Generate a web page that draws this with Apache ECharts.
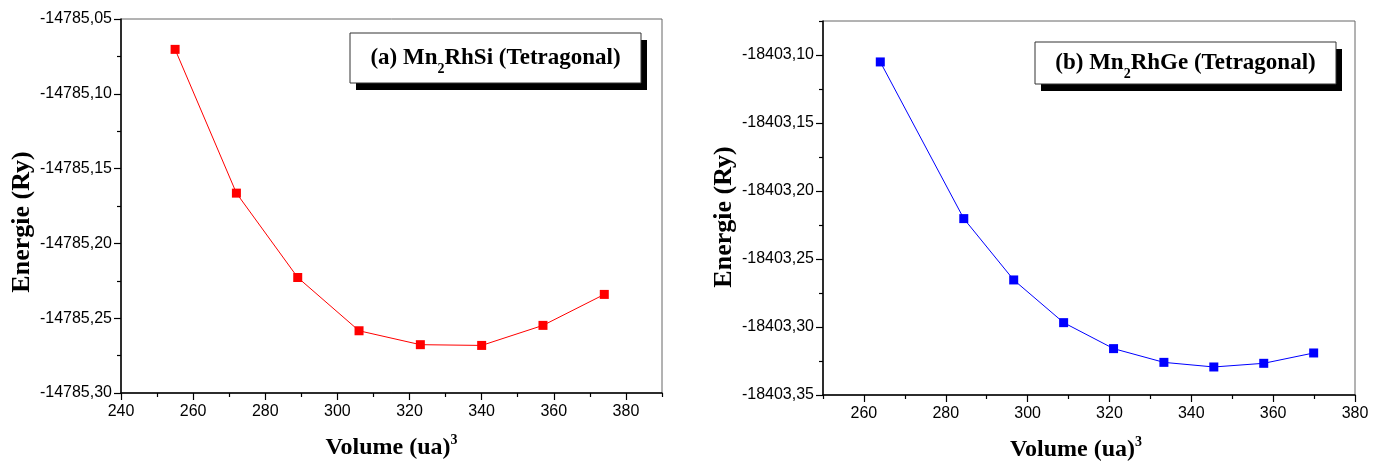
<!DOCTYPE html>
<html>
<head>
<meta charset="utf-8">
<title>Energie vs Volume</title>
<script src="https://cdn.jsdelivr.net/npm/echarts@6/dist/echarts.min.js"></script>
<style>
  html, body { margin: 0; padding: 0; background: #fff; }
  #chart { width: 1383px; height: 462px; }
</style>
</head>
<body>
<div id="chart"></div>
<script>
// (a) Mn2RhSi
const volA = [255, 272, 289, 306, 323, 340, 357, 374];
const energyA = [-14785.0703, -14785.1664, -14785.2228, -14785.2584, -14785.2677, -14785.2682, -14785.2548, -14785.2341];
// (b) Mn2RhGe
const volB = [264, 284.4, 296.6, 308.8, 321, 333.3, 345.5, 357.7, 369.9];
const energyB = [-18403.1051, -18403.2203, -18403.2654, -18403.2968, -18403.3159, -18403.3260, -18403.3294, -18403.3267, -18403.3191];

// ticks
const xTicksA = [240, 260, 280, 300, 320, 340, 360, 380];
const xMinorA = [250, 270, 290, 310, 330, 350, 370, 390];
const yTicksA = [-14785.30, -14785.25, -14785.20, -14785.15, -14785.10, -14785.05];
const yMinorA = [-14785.275, -14785.225, -14785.175, -14785.125, -14785.075];
const xTicksB = [260, 280, 300, 320, 340, 360, 380];
const xMinorB = [250, 270, 290, 310, 330, 350, 370];
const yTicksB = [-18403.35, -18403.30, -18403.25, -18403.20, -18403.15, -18403.10];
const yMinorB = [-18403.325, -18403.275, -18403.225, -18403.175, -18403.125, -18403.075];

const chart = echarts.init(document.getElementById('chart'));

const serif = '"Liberation Serif", "Times New Roman", serif';
const sans = '"Liberation Sans", Arial, sans-serif';

function yFmt (v) { return v.toFixed(2).replace('.', ','); }

function xName (pad) {
  return {
    name: 'Volume (ua){sup|3}',
    nameLocation: 'middle',
    nameGap: 40,
    nameTextStyle: {
      fontFamily: serif, fontWeight: 'bold', fontSize: 24, color: '#000', lineHeight: 30, padding: pad,
      rich: { sup: { fontFamily: serif, fontWeight: 'bold', fontSize: 14, verticalAlign: 'top', lineHeight: 30, color: '#000' } }
    }
  };
}
function yName (pad) {
  return {
    name: 'Energie (Ry)',
    nameLocation: 'middle',
    nameGap: 86,
    nameTextStyle: { fontFamily: serif, fontWeight: 'bold', fontSize: 26, color: '#000', padding: pad }
  };
}

function mainX (grid, min, max, ticks, pad) {
  return Object.assign({
    type: 'value', gridIndex: grid, min: min, max: max, position: 'bottom',
    axisLine: { onZero: false, lineStyle: { color: '#000', width: 1.5 } },
    axisTick: { inside: false, length: 7, customValues: ticks, lineStyle: { color: '#000', width: 1.2 } },
    axisLabel: { customValues: ticks, margin: 11, fontFamily: sans, fontSize: 16, color: '#000' },
    splitLine: { show: false }
  }, xName(pad));
}
function minorX (grid, min, max, ticks) {
  return {
    type: 'value', gridIndex: grid, min: min, max: max, position: 'bottom',
    axisLine: { show: false },
    axisTick: { inside: false, length: 4, customValues: ticks, lineStyle: { color: '#000', width: 1.2 } },
    axisLabel: { show: false },
    splitLine: { show: false }
  };
}
function mainY (grid, min, max, ticks, pad) {
  return Object.assign({
    type: 'value', gridIndex: grid, min: min, max: max, position: 'left',
    axisLine: { onZero: false, lineStyle: { color: '#000', width: 1.5 } },
    axisTick: { inside: false, length: 7, customValues: ticks, lineStyle: { color: '#000', width: 1.2 } },
    axisLabel: { customValues: ticks, margin: 9, fontFamily: sans, fontSize: 16, color: '#000', formatter: yFmt },
    splitLine: { show: false }
  }, yName(pad));
}
function minorY (grid, min, max, ticks) {
  return {
    type: 'value', gridIndex: grid, min: min, max: max, position: 'left',
    axisLine: { show: false },
    axisTick: { inside: false, length: 4, customValues: ticks, lineStyle: { color: '#000', width: 1.2 } },
    axisLabel: { show: false },
    splitLine: { show: false }
  };
}

function legendBox (x, y, w, h, rich, text) {
  return {
    type: 'group',
    children: [
      { type: 'rect', shape: { x: x + 6, y: y + 7, width: w, height: h }, style: { fill: '#000' } },
      { type: 'rect', shape: { x: x, y: y, width: w, height: h }, style: { fill: '#fff', stroke: '#333', lineWidth: 1 } },
      {
        type: 'text', x: x + w / 2, y: y + h / 2,
        style: {
          text: text, align: 'center', verticalAlign: 'middle',
          fontFamily: serif, fontWeight: 'bold', fontSize: 23, fill: '#000', lineHeight: 28,
          rich: rich
        }
      }
    ]
  };
}

const baseRich = {
  t: { fontFamily: serif, fontWeight: 'bold', fontSize: 23, lineHeight: 28, color: '#000' },
  sub: { fontFamily: serif, fontWeight: 'bold', fontSize: 14, lineHeight: 28, verticalAlign: 'bottom', color: '#000', padding: [0, 0, -4, 0] }
};

chart.setOption({
  backgroundColor: '#fff',
  animation: false,
  grid: [
    { left: 121, top: 19, width: 541, height: 374, show: true, borderColor: '#666', borderWidth: 1, outerBoundsMode: 'none', containLabel: false },
    { left: 823, top: 21, width: 532, height: 374, show: true, borderColor: '#666', borderWidth: 1, outerBoundsMode: 'none', containLabel: false }
  ],
  xAxis: [
    mainX(0, 240, 390, xTicksA, [0, 0, 0, 0]), minorX(0, 240, 390, xMinorA),
    mainX(1, 250, 380, xTicksB, [0, 26, 0, 0]), minorX(1, 250, 380, xMinorB)
  ],
  yAxis: [
    mainY(0, -14785.30, -14785.05, yTicksA, [0, 32, 0, 0]), minorY(0, -14785.30, -14785.05, yMinorA),
    mainY(1, -18403.35, -18403.075, yTicksB, [0, 18, 0, 0]), minorY(1, -18403.35, -18403.075, yMinorB)
  ],
  series: [
    {
      type: 'line', xAxisIndex: 0, yAxisIndex: 0,
      data: volA.map((v, i) => [v, energyA[i]]),
      symbol: 'rect', symbolSize: 9,
      lineStyle: { color: '#ff0000', width: 1 },
      itemStyle: { color: '#ff0000' }
    },
    {
      type: 'line', xAxisIndex: 2, yAxisIndex: 2,
      data: volB.map((v, i) => [v, energyB[i]]),
      symbol: 'rect', symbolSize: 9,
      lineStyle: { color: '#0000ff', width: 1 },
      itemStyle: { color: '#0000ff' }
    }
  ],
  graphic: [
    legendBox(350, 33, 291, 50,
      Object.assign({ a: { fontFamily: serif, fontWeight: 'bold', fontSize: 23, lineHeight: 28, color: '#ff0000' } }, baseRich),
      '{a|(a)}{t| Mn}{sub|2}{t|RhSi (Tetragonal)}'),
    legendBox(1035, 42, 301, 42,
      Object.assign({ a: { fontFamily: serif, fontWeight: 'bold', fontSize: 23, lineHeight: 28, color: '#0000ff' } }, baseRich),
      '{a|(b)}{t| Mn}{sub|2}{t|RhGe (Tetragonal)}')
  ]
});
</script>
</body>
</html>
